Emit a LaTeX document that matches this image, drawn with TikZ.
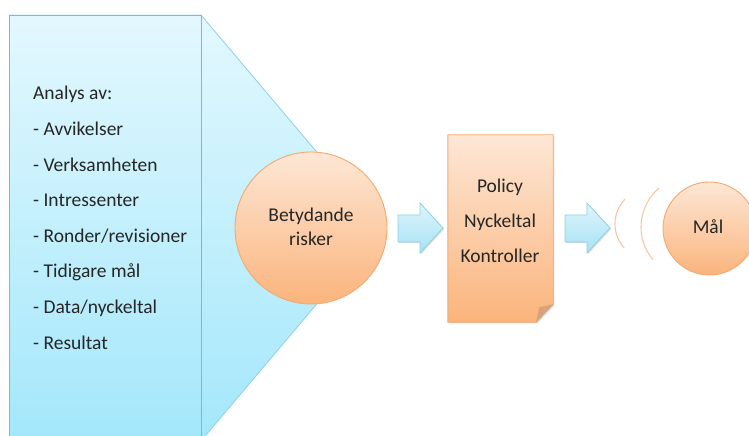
\documentclass[tikz,border=0pt]{standalone}
\usepackage{fontspec}
\setmainfont{Carlito}
\usetikzlibrary{shadows,calc}
\definecolor{bluetop}{HTML}{E3F8FE}
\definecolor{bluebot}{HTML}{A3E7FB}
\definecolor{blueline}{HTML}{72BDD3}
\definecolor{bluelight}{HTML}{8ED0E2}
\definecolor{orangetop}{HTML}{FDE7D6}
\definecolor{orangebot}{HTML}{FBB47C}
\definecolor{orangeline}{HTML}{F3A96E}
\definecolor{foldcol}{HTML}{D9A27B}
\definecolor{arrtop}{HTML}{DFF5FC}
\definecolor{arrbot}{HTML}{A6E2F4}
\definecolor{arrline}{HTML}{8DCFE3}
\definecolor{arccol}{HTML}{F8C6A0}
\definecolor{txtcol}{HTML}{262626}
\begin{document}
\begin{tikzpicture}[x=1pt,y=1pt,
  txt/.style={inner sep=0pt, text=txtcol, font=\fontsize{19.5}{24}\selectfont},
  bluefill/.style={top color=bluetop, bottom color=bluebot},
  orangeshape/.style={draw=orangeline, line width=0.9pt, top color=orangetop, bottom color=orangebot},
  blockarrow/.style={draw=arrline, line width=0.8pt, top color=arrtop, bottom color=arrbot,
    drop shadow={opacity=0.25, shadow xshift=1.2pt, shadow yshift=-1.2pt}},
  wave/.style={draw=arccol, line width=1.1pt}]
\useasboundingbox (0,0) rectangle (749,436);
% big blue shape
\path[bluefill, draw=bluelight, line width=0.8pt] (201,421) -- (381,208) -- (201,-5) -- cycle;
\path[bluefill, draw=blueline, line width=0.9pt] (9,-5) rectangle (201,421);
% list
\node[txt, anchor=base west] (item0) at (33,336) {Analys av:};
\node[txt, anchor=base west] (item1) at (33,300.4) {- Avvikelser};
\node[txt, anchor=base west] (item2) at (33,264.8) {- Verksamheten};
\node[txt, anchor=base west] (item3) at (33,229.2) {- Intressenter};
\node[txt, anchor=base west] (item4) at (33,193.6) {- Ronder/revisioner};
\node[txt, anchor=base west] (item5) at (33,158.0) {- Tidigare mål};
\node[txt, anchor=base west] (item6) at (33,122.4) {- Data/nyckeltal};
\node[txt, anchor=base west] (item7) at (33,86.8) {- Resultat};
% risk circle
\node[circle, orangeshape, minimum size=152pt, inner sep=0pt] (risk) at (311,208) {};
\node[txt, anchor=base] (risk1) at (311,214) {Betydande};
\node[txt, anchor=base] (risk2) at (311,190) {risker};
% arrow 1
\path[blockarrow] (398,221) -- (420,221) -- (420,233) -- (443,208) -- (420,183) -- (420,194) -- (398,194) -- cycle;
% document
\node[minimum width=105pt, minimum height=187pt, inner sep=0pt] (doc) at (500.5,207.5) {};
\path[orangeshape, drop shadow={opacity=0.25, shadow xshift=1.2pt, shadow yshift=-1.2pt}]
  (doc.north west) -- (doc.north east) -- ($(doc.south east)+(0,18)$) -- ($(doc.south east)+(-17,0)$) -- (doc.south west) -- cycle;
\path[fill=foldcol] ($(doc.south east)+(0,18)$) -- ($(doc.south east)+(-14,15)$) -- ($(doc.south east)+(-17,0)$) -- cycle;
\node[txt, anchor=base] (pol) at (500,243) {Policy};
\node[txt, anchor=base] (nyc) at (500,208) {Nyckeltal};
\node[txt, anchor=base] (kon) at (500,173) {Kontroller};
% arrow 2
\path[blockarrow] (565,221) -- (587,221) -- (587,233) -- (610,208) -- (587,183) -- (587,194) -- (565,194) -- cycle;
% waves
\coordinate (w1) at (651,212);
\coordinate (w2) at (692,209);
\draw[wave] (w1) ++(136:36) arc[start angle=136, end angle=222, radius=36];
\draw[wave] (w2) ++(130:51) arc[start angle=130, end angle=220, radius=51];
% goal
\node[circle, orangeshape, minimum size=93pt, inner sep=0pt] (mal) at (709.5,207.5) {};
\node[txt, anchor=base] (maltext) at (708,202) {Mål};
\end{tikzpicture}
\end{document}
